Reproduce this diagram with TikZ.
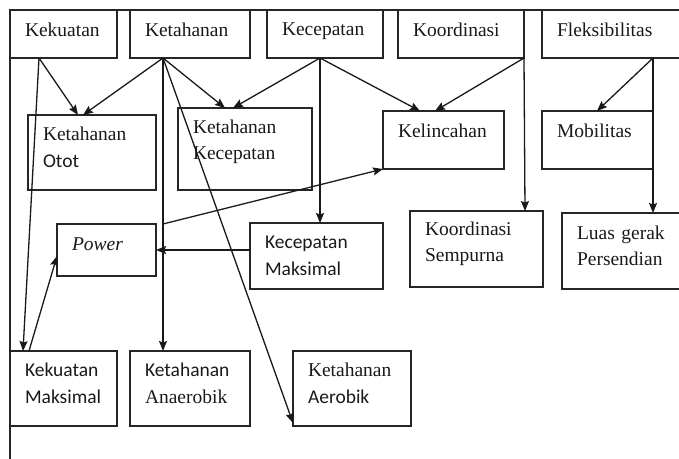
\documentclass[tikz,border=0pt]{standalone}
\usepackage{fontspec}
\setmainfont{Liberation Serif}
\newfontfamily\calibri{Carlito}
\usetikzlibrary{arrows.meta, positioning}
\tikzset{
  box/.style     = {rectangle, draw=black!85, line width=1.4pt, outer sep=0pt,
                    anchor=north west, align=left, inner xsep=15pt, inner ysep=2pt,
                    font=\fontsize{19.5}{26.7}\selectfont, text=black!90},
  head/.style    = {box, minimum height=48pt, text depth=9pt},
  oneline/.style = {box, text depth=19pt},
  twoline/.style = {box, text depth=37pt},
  arrow/.style   = {-{Stealth[length=10pt, width=8pt, inset=1.5pt]}, line width=1.3pt, black!90},
  frame/.style   = {draw=black!85, line width=1.4pt},
}

\begin{document}
\begin{tikzpicture}[x=1pt, y=-1pt]

  \useasboundingbox (0,0) rectangle (679,458);
  \clip (0,0) rectangle (679,458);
  \draw[frame] (10,10) rectangle (720,520);

  % top row
  \node[head, text width=77pt]  (kekuatan)      at (10,10)  {Kekuatan};
  \node[head, text width=90pt]  (ketahanan)     at (130,10) {Ketahanan};
  \node[head, text width=86pt]  (kecepatan)     at (267,10) {Kecepatan};
  \node[head, text width=96pt]  (koordinasi)    at (398,10) {Koordinasi};
  \node[head, text width=130pt] (fleksibilitas) at (542,10) {Fleksibilitas};

  \node[twoline, text width=98pt, minimum height=75pt] (ket_otot) at (28,115) {Ketahanan\\{\calibri Otot}};
  \node[twoline, text width=104pt, minimum height=82pt, text depth=45pt] (ket_kec) at (178,108) {Ketahanan\\Kecepatan};
  \node[oneline, text width=91pt, minimum height=58pt] (kelincahan) at (383,111) {Kelincahan};
  \node[oneline, text width=81pt, minimum height=58pt] (mobilitas)  at (542,111) {Mobilitas};

  \node[oneline, text width=69pt, minimum height=52pt, text depth=12pt] (power) at (57,224) {\itshape Power};
  \node[twoline, text width=103pt, minimum height=66pt, text depth=27pt] (kec_maks) at (250,223) {{\calibri Kecepatan}\\{\calibri Maksimal}};
  \node[twoline, text width=103pt, minimum height=76pt, text depth=41pt] (koor_semp) at (410,211) {Koordinasi\\Sempurna};
  \node[twoline, text width=110pt, minimum height=76pt] (luas_gerak) at (562,213) {Luas gerak\\Persendian};

  \node[twoline, text width=77pt, minimum height=75pt] (kek_maks)  at (10,351)  {{\calibri Kekuatan}\\{\calibri Maksimal}};
  \node[twoline, text width=90pt, minimum height=75pt] (ket_anaer) at (130,351) {{\calibri Ketahanan}\\Anaerobik};
  \node[twoline, text width=88pt, minimum height=75pt] (ket_aer)   at (293,351) {Ketahanan\\{\calibri Aerobik}};

  % connectors
  \draw[arrow] ([xshift=29pt]kekuatan.south west)  -- ([xshift=50pt]ket_otot.north west);
  \draw[arrow] ([xshift=29pt]kekuatan.south west)  -- ([xshift=13pt]kek_maks.north west);
  \draw[arrow] ([xshift=33pt]ketahanan.south west) -- ([xshift=55pt]ket_otot.north west);
  \draw[arrow] ([xshift=33pt]ketahanan.south west) -- ([xshift=47pt]ket_kec.north west);
  \draw[arrow] ([xshift=33pt]ketahanan.south west) -- ([xshift=33pt]ket_anaer.north west);
  \draw[arrow] ([xshift=33pt]ketahanan.south west) -- ([yshift=3pt]ket_aer.south west);
  \draw[arrow] ([xshift=53pt]kecepatan.south west) -- ([xshift=55pt]ket_kec.north west);
  \draw[arrow] ([xshift=53pt]kecepatan.south west) -- ([xshift=37pt]kelincahan.north west);
  \draw[arrow] ([xshift=53pt]kecepatan.south west) -- ([xshift=70pt]kec_maks.north west);
  \draw[arrow] (koordinasi.south east) -- ([xshift=52pt]kelincahan.north west);
  \draw[arrow] (koordinasi.south east) -- ([xshift=115pt]koor_semp.north west);
  \draw[arrow] ([xshift=111pt]fleksibilitas.south west) -- ([xshift=55pt]mobilitas.north west);
  \draw[arrow] ([xshift=111pt]fleksibilitas.south west) -- ([xshift=91pt]luas_gerak.north west);
  \draw[arrow] ([xshift=19pt]kek_maks.north west) -- ([yshift=-32pt]power.north west);
  \draw[arrow] ([xshift=7pt]power.north east) -- (kelincahan.south west);
  \draw[arrow] (kec_maks.west |- power.east) -- (power.east);

\end{tikzpicture}
\end{document}
